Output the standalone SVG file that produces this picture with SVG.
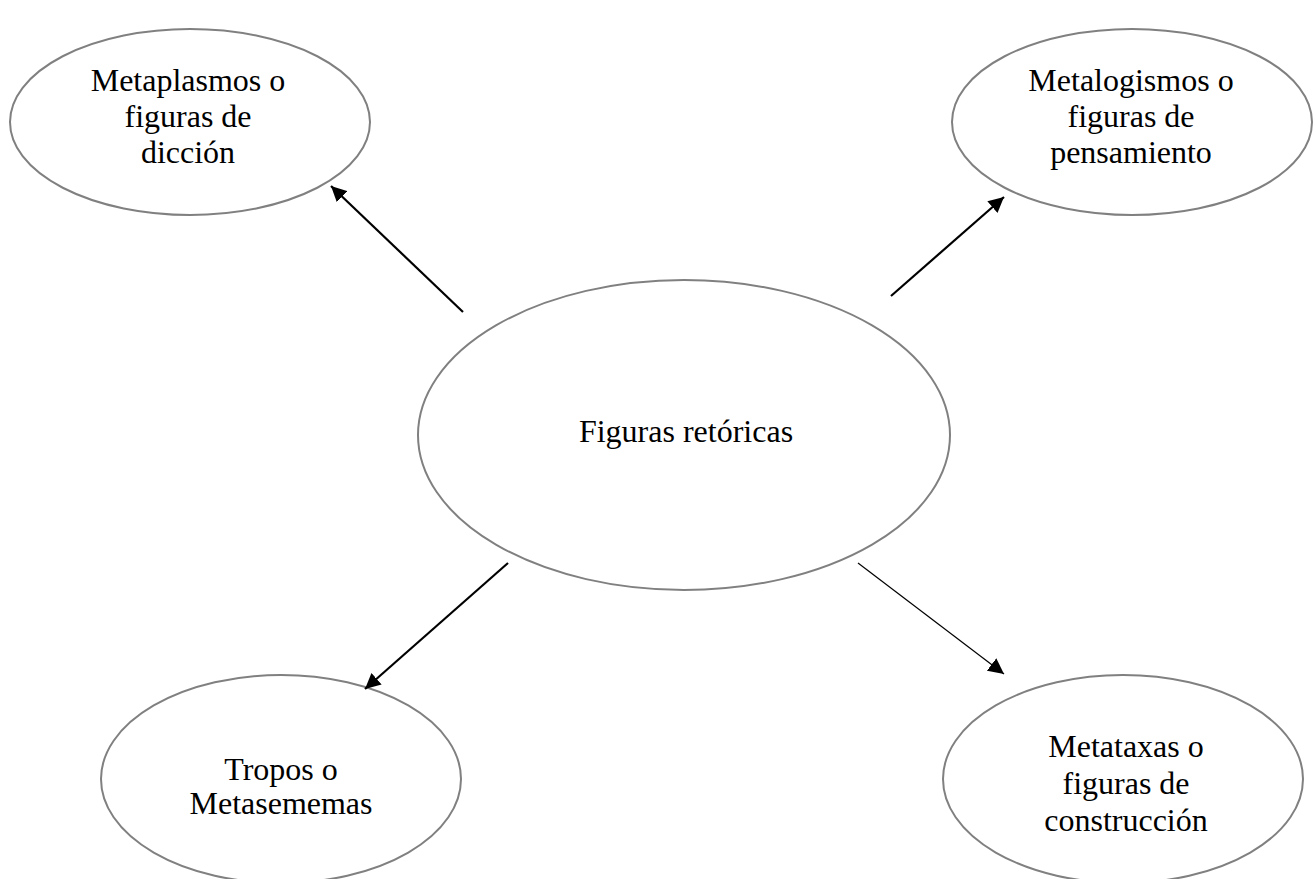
<svg xmlns="http://www.w3.org/2000/svg" width="1314" height="879" viewBox="0 0 1314 879">
<style>
.node ellipse{fill:#fff;stroke:#808080;stroke-width:2}
.node text{font-family:"Liberation Serif","Times New Roman",serif;font-size:32px;fill:#000;text-anchor:middle}
.conn line{stroke:#000;stroke-width:2.2}
</style>
<defs>
<marker id="ah" viewBox="0 0 10 10" refX="10" refY="5" markerWidth="7" markerHeight="7" orient="auto" markerUnits="strokeWidth">
<path d="M0,0 L10,5 L0,10 z" fill="#000"/>
</marker>
<marker id="ah2" viewBox="0 0 10 10" refX="10" refY="5" markerWidth="13" markerHeight="13" orient="auto" markerUnits="strokeWidth">
<path d="M0,0 L10,5 L0,10 z" fill="#000"/>
</marker>
</defs>
<rect width="1314" height="879" fill="#fff"/>
<g id="n-center" class="node">
<ellipse cx="684" cy="435" rx="266" ry="155"/>
<text x="686" y="442">Figuras retóricas</text>
</g>
<g id="n-metaplasmos" class="node">
<ellipse cx="190" cy="122" rx="180" ry="93"/>
<text x="188" y="91">Metaplasmos o</text>
<text x="188" y="127">figuras de</text>
<text x="188" y="163">dicción</text>
</g>
<g id="n-metalogismos" class="node">
<ellipse cx="1132" cy="122" rx="180" ry="93"/>
<text x="1131" y="91">Metalogismos o</text>
<text x="1131" y="127">figuras de</text>
<text x="1131" y="163">pensamiento</text>
</g>
<g id="n-tropos" class="node">
<ellipse cx="281" cy="779" rx="180" ry="104"/>
<text x="281" y="780">Tropos o</text>
<text x="281" y="814">Metasememas</text>
</g>
<g id="n-metataxas" class="node">
<ellipse cx="1123" cy="779" rx="180" ry="104"/>
<text x="1126" y="757">Metataxas o</text>
<text x="1126" y="794">figuras de</text>
<text x="1126" y="831">construcción</text>
</g>
<g id="connectors" class="conn">
<line x1="463" y1="312" x2="331" y2="186" marker-end="url(#ah)"/>
<line x1="891" y1="296" x2="1004" y2="197" marker-end="url(#ah)"/>
<line x1="508" y1="563" x2="365" y2="689" marker-end="url(#ah)"/>
<line x1="858" y1="563" x2="1004" y2="674" marker-end="url(#ah2)" style="stroke-width:1.2"/>
</g>
</svg>
